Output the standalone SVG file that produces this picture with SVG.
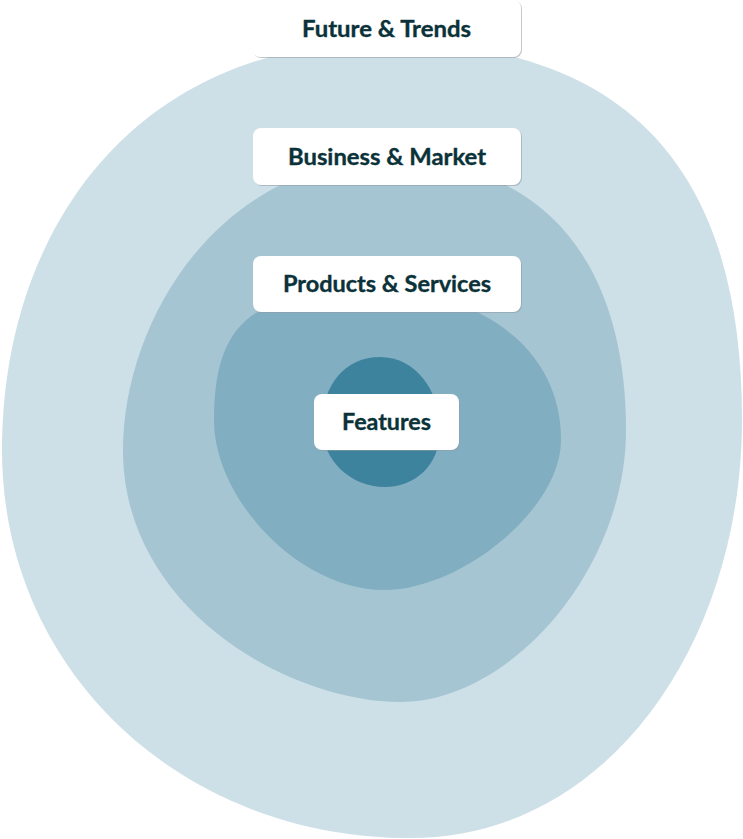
<svg xmlns="http://www.w3.org/2000/svg" width="743" height="839" viewBox="0 0 743 839">
<style>
.lbl{fill:#ffffff}
.shd{fill:#8f9ba2;opacity:0.55}
.t{font-family:Lato,"Open Sans","Liberation Sans",sans-serif;font-weight:700;font-size:22px;fill:#0b3239;stroke:#0b3239;stroke-width:0.35;text-anchor:middle}
</style>
<rect width="743" height="839" fill="#ffffff"/>
<g id="future-trends">
<path d="M385,42 C655,42 742,200 742,420 C742,640 610,838 410,838 C180,838 2,670 2,450 C2,230 135,42 385,42 Z" fill="#cddfe7"/>
<rect class="shd" x="253" y="1" width="269" height="57" rx="8"/>
<rect class="lbl" x="252" y="0" width="269" height="57" rx="8"/>
<text class="t" x="386.5" y="37" textLength="169" lengthAdjust="spacingAndGlyphs">Future &amp; Trends</text>
</g>
<g id="business-market">
<path d="M390,160 C550,160 626,270 626,430 C626,570 510,702 400,702 C290,702 123,610 123,450 C123,320 220,160 390,160 Z" fill="#a5c5d2"/>
<rect class="shd" x="254" y="129" width="268" height="57" rx="8"/>
<rect class="lbl" x="253" y="128" width="268" height="57" rx="8"/>
<text class="t" x="387" y="165" textLength="198" lengthAdjust="spacingAndGlyphs">Business &amp; Market</text>
</g>
<g id="products-services">
<path d="M375,290 C475,290 561,345 561,440 C561,510 460,590 384,590 C300,590 214,500 214,420 C214,320 255,290 375,290 Z" fill="#82aec1"/>
<rect class="shd" x="254" y="257" width="268" height="56" rx="8"/>
<rect class="lbl" x="253" y="256" width="268" height="56" rx="8"/>
<text class="t" x="387" y="292" textLength="208" lengthAdjust="spacingAndGlyphs">Products &amp; Services</text>
</g>
<g id="features">
<path d="M380,357 C415,357 440,390 440,430 C440,465 415,487 385,487 C350,487 322,460 322,425 C322,385 345,357 380,357 Z" fill="#3e839e"/>
<rect class="shd" x="315" y="395" width="145" height="56" rx="8"/>
<rect class="lbl" x="314" y="394" width="145" height="56" rx="8"/>
<text class="t" x="386.5" y="430" textLength="89" lengthAdjust="spacingAndGlyphs">Features</text>
</g>
<g id="connectors"/>
</svg>
